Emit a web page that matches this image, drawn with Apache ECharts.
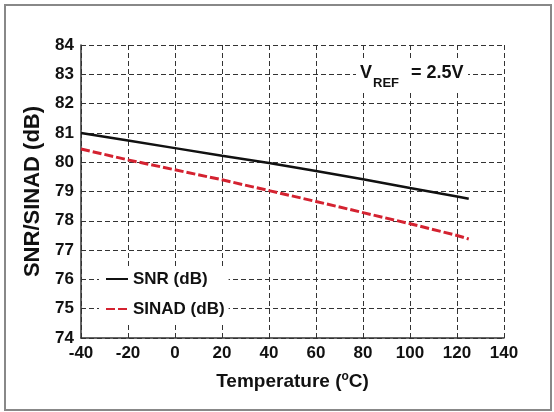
<!DOCTYPE html>
<html>
<head>
<meta charset="utf-8">
<script src="https://cdn.jsdelivr.net/npm/echarts@6/dist/echarts.min.js"></script>
<style>
  html, body { margin: 0; padding: 0; background: #fff; }
  #chart { width: 554px; height: 412px; }
</style>
</head>
<body>
<div id="chart"></div>
<script>
// temperature points (°C)
var temps = [-40, -20, 0, 20, 40, 60, 80, 100, 120, 125];
// SNR (dB)
var snr = [81.0, 80.74, 80.48, 80.22, 79.97, 79.7, 79.42, 79.12, 78.83, 78.75];
// SINAD (dB)
var sinad = [80.45, 80.08, 79.74, 79.4, 79.03, 78.66, 78.28, 77.9, 77.5, 77.38];

var seriesNames = ['SNR (dB)', 'SINAD (dB)'];
var vrefText = ['V', 'REF', '= 2.5V'];

function pairs(xs, ys) {
  var out = [];
  for (var i = 0; i < xs.length; i++) out.push([xs[i], ys[i]]);
  return out;
}

var font = 'Liberation Sans, Arial, sans-serif';
var myChart = echarts.init(document.getElementById('chart'));

var option = {
  animation: false,
  backgroundColor: '#fff',
  grid: { left: 81, right: 50, top: 45, bottom: 74, containLabel: false },
  xAxis: {
    type: 'value',
    min: -40, max: 140, interval: 20,
    name: 'Temperature ({sup|o}C)',
    nameLocation: 'middle',
    nameGap: 33,
    nameTextStyle: {
      fontFamily: font, fontWeight: 'bold', fontSize: 19, color: '#111',
      rich: { sup: { fontFamily: font, fontWeight: 'bold', fontSize: 12, color: '#111', padding: [0, 0, 10, 0] } }
    },
    axisLine: { show: true, onZero: false, lineStyle: { color: '#333', width: 1.5 } },
    axisTick: { show: false },
    axisLabel: { margin: 7, fontFamily: font, fontWeight: 'bold', fontSize: 17, color: '#111' },
    splitLine: { show: true, lineStyle: { color: '#333', width: 1, type: [5, 3] } }
  },
  yAxis: {
    type: 'value',
    min: 74, max: 84, interval: 1,
    name: 'SNR/SINAD (dB)',
    nameLocation: 'middle',
    nameGap: 35,
    nameRotate: 90,
    nameTextStyle: { fontFamily: font, fontWeight: 'bold', fontSize: 22, color: '#111' },
    axisLine: { show: true, onZero: false, lineStyle: { color: '#333', width: 1.5 } },
    axisTick: { show: false },
    axisLabel: { margin: 7, fontFamily: font, fontWeight: 'bold', fontSize: 17, color: '#111' },
    splitLine: { show: true, lineStyle: { color: '#333', width: 1, type: [5, 3] } }
  },
  legend: {
    data: seriesNames,
    orient: 'vertical',
    left: 99, top: 266,
    padding: [4, 4, 4, 6],
    itemWidth: 22, itemHeight: 14, itemGap: 12,
    backgroundColor: '#fff',
    itemStyle: { opacity: 0 },
    textStyle: { fontFamily: font, fontWeight: 'bold', fontSize: 17, color: '#111', lineHeight: 18 }
  },
  series: [
    {
      name: seriesNames[0], type: 'line', symbol: 'none', z: 3,
      data: pairs(temps, snr),
      lineStyle: { color: '#111', width: 2.5 },
      itemStyle: { color: '#111' }
    },
    {
      name: seriesNames[1], type: 'line', symbol: 'none', z: 3,
      data: pairs(temps, sinad),
      lineStyle: { color: '#d42230', width: 3, type: [9, 3] },
      itemStyle: { color: '#d42230' }
    }
  ],
  graphic: [
    // outer frame
    { type: 'rect', z: 0, shape: { x: 5, y: 5, width: 546, height: 405 }, style: { fill: null, stroke: '#888', lineWidth: 2 } },
    // white box behind VREF note
    { type: 'rect', z: 1, shape: { x: 356, y: 61, width: 112, height: 30 }, style: { fill: '#fff' } },
    { type: 'text', z: 2, left: 360, top: 64, style: { text: vrefText[0], fontFamily: font, fontWeight: 'bold', fontSize: 18, fill: '#111' } },
    { type: 'text', z: 2, left: 373, top: 77, style: { text: vrefText[1], fontFamily: font, fontWeight: 'bold', fontSize: 13, fill: '#111' } },
    { type: 'text', z: 2, left: 411, top: 64, style: { text: vrefText[2], fontFamily: font, fontWeight: 'bold', fontSize: 18, fill: '#111' } }
  ]
};
myChart.setOption(option);
</script>
</body>
</html>
